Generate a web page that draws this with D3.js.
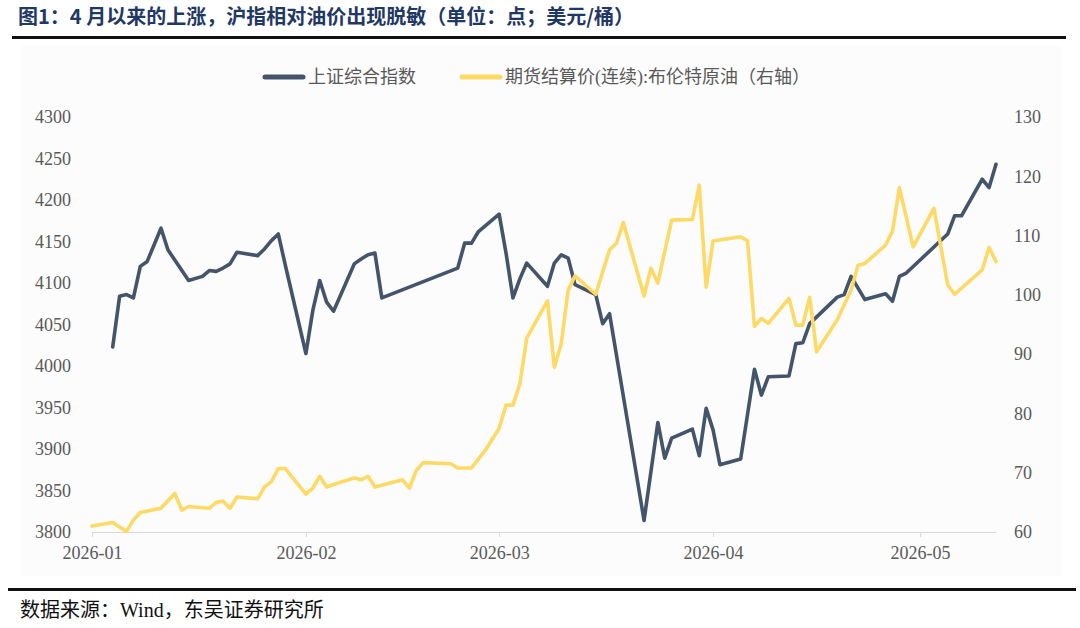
<!DOCTYPE html>
<html>
<head>
<meta charset="utf-8">
<script src="https://d3js.org/d3.v7.min.js"></script>
<style>
  body { margin: 0; background: #fff; }
  text { font-family: "Liberation Serif", "Noto Sans CJK SC", serif; }
</style>
</head>
<body>
<script>
// 上证综合指数（左轴）
const shDates = [
  "2026-01-04", "2026-01-05", "2026-01-06", "2026-01-07", "2026-01-08", "2026-01-09",
  "2026-01-11", "2026-01-12", "2026-01-15", "2026-01-17", "2026-01-18", "2026-01-19",
  "2026-01-20", "2026-01-21", "2026-01-22", "2026-01-25", "2026-01-26", "2026-01-27",
  "2026-01-28", "2026-01-29", "2026-02-01", "2026-02-02", "2026-02-03", "2026-02-04",
  "2026-02-05", "2026-02-08", "2026-02-09", "2026-02-10", "2026-02-11", "2026-02-12",
  "2026-02-23", "2026-02-24", "2026-02-25", "2026-02-26", "2026-03-01", "2026-03-02",
  "2026-03-03", "2026-03-04", "2026-03-05", "2026-03-08", "2026-03-09", "2026-03-10",
  "2026-03-11", "2026-03-12", "2026-03-15", "2026-03-16", "2026-03-17", "2026-03-22",
  "2026-03-24", "2026-03-25", "2026-03-26", "2026-03-29", "2026-03-30", "2026-03-31",
  "2026-04-01", "2026-04-02", "2026-04-05", "2026-04-07", "2026-04-08", "2026-04-09",
  "2026-04-12", "2026-04-13", "2026-04-14", "2026-04-15", "2026-04-19", "2026-04-20",
  "2026-04-21", "2026-04-23", "2026-04-26", "2026-04-27", "2026-04-28", "2026-04-29",
  "2026-05-05", "2026-05-06", "2026-05-07", "2026-05-10", "2026-05-11", "2026-05-12"
];
const shValues = [
  4023, 4084, 4086, 4082, 4120, 4126,
  4166, 4140, 4103, 4108, 4115, 4114,
  4118, 4123, 4137, 4133, 4141, 4151,
  4159, 4122, 4015, 4067, 4103, 4077,
  4066, 4123, 4129, 4134, 4136, 4082,
  4118, 4148, 4148, 4162, 4183, 4136,
  4082, 4105, 4124, 4096, 4124, 4134,
  4130, 4098, 4086, 4051, 4063, 3814,
  3932, 3889, 3913, 3924, 3892, 3949,
  3923, 3881, 3888, 3996, 3965, 3987,
  3988, 4027, 4028, 4051, 4083, 4086,
  4108, 4080, 4087, 4078, 4108, 4112,
  4159, 4181, 4181, 4225, 4215, 4243
];

// 期货结算价(连续):布伦特原油（右轴）
const brentDates = [
  "2026-01-01", "2026-01-04", "2026-01-06", "2026-01-07", "2026-01-08", "2026-01-11",
  "2026-01-13", "2026-01-14", "2026-01-15", "2026-01-18", "2026-01-19", "2026-01-20",
  "2026-01-21", "2026-01-22", "2026-01-25", "2026-01-26", "2026-01-27", "2026-01-28",
  "2026-01-29", "2026-02-01", "2026-02-02", "2026-02-03", "2026-02-04", "2026-02-05",
  "2026-02-08", "2026-02-09", "2026-02-10", "2026-02-11", "2026-02-15", "2026-02-16",
  "2026-02-17", "2026-02-18", "2026-02-22", "2026-02-23", "2026-02-25", "2026-02-27",
  "2026-03-01", "2026-03-02", "2026-03-03", "2026-03-04", "2026-03-05", "2026-03-08",
  "2026-03-09", "2026-03-10", "2026-03-11", "2026-03-12", "2026-03-15", "2026-03-17",
  "2026-03-18", "2026-03-19", "2026-03-22", "2026-03-23", "2026-03-24", "2026-03-26",
  "2026-03-29", "2026-03-30", "2026-03-31", "2026-04-01", "2026-04-05", "2026-04-06",
  "2026-04-07", "2026-04-08", "2026-04-09", "2026-04-12", "2026-04-13", "2026-04-14",
  "2026-04-15", "2026-04-16", "2026-04-19", "2026-04-21", "2026-04-22", "2026-04-23",
  "2026-04-26", "2026-04-27", "2026-04-28", "2026-04-30", "2026-05-03", "2026-05-05",
  "2026-05-06", "2026-05-10", "2026-05-11", "2026-05-12"
];
const brentValues = [
  61.0, 61.6, 60.1, 62.0, 63.3, 64.0,
  66.5, 63.7, 64.3, 64.0, 65.0, 65.2,
  64.0, 65.9, 65.6, 67.6, 68.5, 70.7,
  70.7, 66.4, 67.4, 69.4, 67.6, 68.0,
  69.1, 68.8, 69.4, 67.6, 68.8, 67.4,
  70.4, 71.7, 71.5, 70.8, 70.8, 73.8,
  77.5, 81.4, 81.4, 85.0, 92.7, 99.0,
  87.8, 91.8, 100.8, 103.2, 100.1, 107.6,
  108.7, 112.2, 99.8, 104.5, 102.0, 112.6,
  112.7, 118.5, 101.3, 109.1, 109.8, 109.1,
  94.7, 96.0, 95.2, 99.4, 94.9, 94.9,
  99.6, 90.4, 95.8, 100.8, 105.0, 105.3,
  108.4, 110.7, 118.1, 108.1, 114.6, 101.7,
  100.1, 104.2, 108.0, 105.6
];

const leftTicks = [3800, 3850, 3900, 3950, 4000, 4050, 4100, 4150, 4200, 4250, 4300];
const rightTicks = [60, 70, 80, 90, 100, 110, 120, 130];
const monthTicks = ["2026-01-01", "2026-02-01", "2026-03-01", "2026-04-01", "2026-05-01"];

const width = 1080, height = 628;
const parse = d3.timeParse("%Y-%m-%d");
const serif = "'Liberation Serif', 'Noto Sans CJK SC', serif";

const sh = shDates.map((d, i) => ({ date: parse(d), value: shValues[i] }));
const brent = brentDates.map((d, i) => ({ date: parse(d), value: brentValues[i] }));

const svg = d3.select("body").append("svg")
  .attr("width", width)
  .attr("height", height);

// 标题
svg.append("text")
  .attr("x", 18).attr("y", 24)
  .attr("font-size", 20)
  .attr("font-weight", "bold")
  .attr("fill", "#1f3864")
  .style("font-family", "'Noto Sans CJK SC', sans-serif")
  .text("图1：4 月以来的上涨，沪指相对油价出现脱敏（单位：点；美元/桶）");

svg.append("rect").attr("x", 12).attr("y", 36).attr("width", 1054).attr("height", 3).attr("fill", "#111");

// 图表区浅底
svg.append("rect").attr("x", 22).attr("y", 46).attr("width", 1040).attr("height", 530).attr("fill", "#fcfcfc");

// 比例尺
const x = d3.scaleTime()
  .domain([parse("2026-01-01"), parse("2026-05-12")])
  .range([92, 996]);
const yL = d3.scaleLinear().domain([3800, 4300]).range([532, 117]);
const yR = d3.scaleLinear().domain([60, 130]).range([532, 117]);

// 左轴
const gL = svg.append("g")
  .attr("transform", "translate(92,0)")
  .call(d3.axisLeft(yL).tickValues(leftTicks).tickFormat(d3.format("d")).tickSize(0).tickPadding(21));
gL.select(".domain").remove();

// 右轴
const gR = svg.append("g")
  .attr("transform", "translate(996,0)")
  .call(d3.axisRight(yR).tickValues(rightTicks).tickFormat(d3.format("d")).tickSize(0).tickPadding(18));
gR.select(".domain").remove();

// 横轴
const gX = svg.append("g")
  .attr("transform", "translate(0,532)")
  .call(d3.axisBottom(x)
    .tickValues(monthTicks.map(parse))
    .tickFormat(d3.timeFormat("%Y-%m"))
    .tickSize(5).tickSizeOuter(0).tickPadding(9));
gX.select(".domain").attr("stroke", "#d9d9d9").attr("stroke-width", 1.2);
gX.selectAll(".tick line").attr("stroke", "#d9d9d9");

[gL, gR, gX].forEach(g => {
  g.attr("font-family", serif).attr("font-size", 18);
  g.selectAll(".tick text")
    .attr("fill", "#595959")
    .attr("font-family", serif)
    .attr("font-size", 18)
    .style("font-family", serif);
});

// 折线
const lineL = d3.line().x(d => x(d.date)).y(d => yL(d.value));
const lineR = d3.line().x(d => x(d.date)).y(d => yR(d.value));

svg.append("path")
  .datum(sh)
  .attr("d", lineL)
  .attr("fill", "none")
  .attr("stroke", "#44546a")
  .attr("stroke-width", 3.6)
  .attr("stroke-linejoin", "round")
  .attr("stroke-linecap", "round");

svg.append("path")
  .datum(brent)
  .attr("d", lineR)
  .attr("fill", "none")
  .attr("stroke", "#ffd966")
  .attr("stroke-width", 3.6)
  .attr("stroke-linejoin", "round")
  .attr("stroke-linecap", "round");

// 图例
const legend = [
  { name: "上证综合指数", color: "#44546a", x: 263 },
  { name: "期货结算价(连续):布伦特原油（右轴）", color: "#ffd966", x: 460 }
];
const lg = svg.selectAll("g.legend")
  .data(legend)
  .enter().append("g")
  .attr("class", "legend")
  .attr("transform", d => `translate(${d.x},77)`);
lg.append("line")
  .attr("x1", 2).attr("x2", 40)
  .attr("stroke", d => d.color)
  .attr("stroke-width", 5)
  .attr("stroke-linecap", "round");
lg.append("text")
  .attr("x", 45).attr("dy", "0.35em")
  .attr("font-size", 18)
  .attr("fill", "#595959")
  .text(d => d.name);

// 底部
svg.append("rect").attr("x", 8).attr("y", 588).attr("width", 1068).attr("height", 3).attr("fill", "#111");
svg.append("text")
  .attr("x", 20).attr("y", 617)
  .attr("font-size", 20)
  .attr("fill", "#111")
  .text("数据来源：Wind，东吴证券研究所");
</script>
</body>
</html>
